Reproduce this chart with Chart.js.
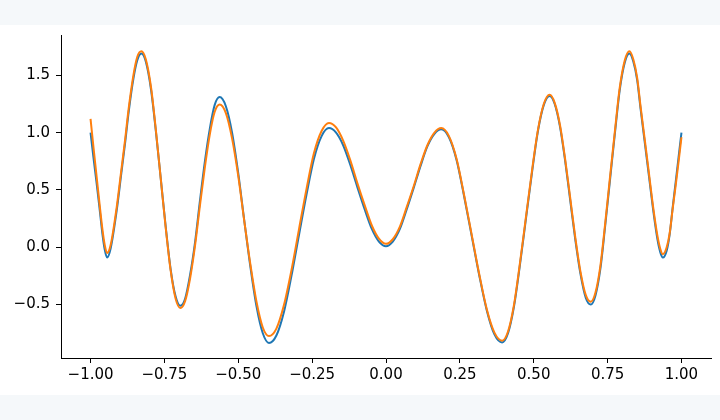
<!DOCTYPE html>
<html>
<head>
<meta charset="utf-8">
<script src="https://cdn.jsdelivr.net/npm/chart.js@4"></script>
<style>
  html, body { margin: 0; padding: 0; }
  body { width: 720px; height: 420px; background: #f5f8fa; position: relative; overflow: hidden; }
  #wrap { position: absolute; left: 0; top: 25px; width: 720px; height: 370px; background: #fff; }
</style>
</head>
<body>
<div id="wrap"><canvas id="chart"></canvas></div>
<script>
// sample positions (extrema, mid-crossings, shoulders)
const xs = [
  -1.000, -0.990, -0.980, -0.970, -0.960, -0.952, -0.944, -0.932, -0.911, -0.897,
  -0.883, -0.871, -0.855, -0.842, -0.828, -0.813, -0.795, -0.778, -0.762, -0.746,
  -0.729, -0.712, -0.696, -0.680, -0.663, -0.646, -0.630, -0.613, -0.596, -0.580,
  -0.563, -0.542, -0.521, -0.500, -0.480, -0.459, -0.438, -0.417, -0.396, -0.371,
  -0.345, -0.320, -0.295, -0.269, -0.244, -0.218, -0.193, -0.169, -0.145, -0.121,
  -0.097, -0.072, -0.048, -0.024, 0.000, 0.023, 0.047, 0.070, 0.094, 0.117,
  0.140, 0.164, 0.187, 0.213, 0.239, 0.264, 0.290, 0.316, 0.342, 0.367,
  0.393, 0.413, 0.433, 0.453, 0.4735, 0.494, 0.514, 0.534, 0.554, 0.571,
  0.589, 0.606, 0.6235, 0.641, 0.658, 0.676, 0.693, 0.709, 0.726, 0.742,
  0.7585, 0.775, 0.791, 0.808, 0.824, 0.837, 0.850, 0.862, 0.876, 0.890,
  0.904, 0.918, 0.928, 0.937, 0.950, 0.960, 0.970, 0.980, 0.990, 1.000
];

const blue = [
  1.00, 0.78, 0.57, 0.35, 0.12, -0.02, -0.09, -0.01, 0.33, 0.62,
  0.91, 1.18, 1.47, 1.63, 1.69, 1.62, 1.37, 0.99, 0.59, 0.19,
  -0.19, -0.43, -0.51, -0.45, -0.24, 0.05, 0.40, 0.75, 1.04, 1.24,
  1.31, 1.23, 1.00, 0.645, 0.24, -0.17, -0.52, -0.75, -0.835, -0.77,
  -0.56, -0.25, 0.10, 0.46, 0.77, 0.97, 1.04, 1.00, 0.89, 0.72,
  0.525, 0.33, 0.16, 0.05, 0.01, 0.05, 0.16, 0.33, 0.52, 0.71,
  0.88, 0.99, 1.03, 0.96, 0.76, 0.45, 0.10, -0.25, -0.56, -0.76,
  -0.83, -0.75, -0.52, -0.16, 0.245, 0.65, 1.01, 1.24, 1.32, 1.25,
  1.05, 0.76, 0.41, 0.06, -0.23, -0.44, -0.50, -0.42, -0.18, 0.19,
  0.595, 1.00, 1.37, 1.61, 1.69, 1.62, 1.46, 1.20, 0.91, 0.62,
  0.33, 0.08, -0.04, -0.09, -0.03, 0.11, 0.34, 0.56, 0.78, 1.00
];

const orange = [
  1.12, 0.87, 0.63, 0.39, 0.16, 0.02, -0.05, 0.02, 0.36, 0.65,
  0.94, 1.21, 1.50, 1.66, 1.71, 1.64, 1.39, 1.00, 0.59, 0.18,
  -0.20, -0.45, -0.53, -0.47, -0.27, 0.02, 0.36, 0.70, 0.99, 1.18,
  1.245, 1.17, 0.95, 0.62, 0.235, -0.15, -0.48, -0.70, -0.775, -0.71,
  -0.50, -0.20, 0.15, 0.51, 0.82, 1.015, 1.085, 1.045, 0.93, 0.76,
  0.56, 0.365, 0.19, 0.075, 0.03, 0.07, 0.18, 0.35, 0.535, 0.725,
  0.89, 1.00, 1.04, 0.97, 0.77, 0.46, 0.11, -0.24, -0.55, -0.745,
  -0.815, -0.735, -0.505, -0.145, 0.26, 0.665, 1.02, 1.25, 1.33, 1.26,
  1.065, 0.775, 0.43, 0.08, -0.21, -0.415, -0.475, -0.395, -0.155, 0.21,
  0.62, 1.02, 1.39, 1.63, 1.71, 1.64, 1.48, 1.22, 0.935, 0.645,
  0.355, 0.11, -0.01, -0.06, 0.00, 0.12, 0.33, 0.53, 0.74, 0.96
];

const xTicks = [-1.00, -0.75, -0.50, -0.25, 0.00, 0.25, 0.50, 0.75, 1.00];
const yTicks = [-0.5, 0.0, 0.5, 1.0, 1.5];

const minus = s => s.replace('-', '\u2212');
const font = { family: 'DejaVu Sans', size: 15 };

const series = (ys, color, order) => ({
  data: xs.map((x, i) => ({ x, y: ys[i] })),
  borderColor: color,
  borderWidth: 2,
  pointRadius: 0,
  fill: false,
  cubicInterpolationMode: 'monotone',
  order
});

new Chart('chart', {
  type: 'line',
  data: {
    datasets: [series(blue, '#1f77b4', 1), series(orange, '#ff7f0e', 0)]
  },
  options: {
    responsive: true,
    maintainAspectRatio: false,
    animation: false,
    layout: { padding: { top: 10, right: 9, left: 0, bottom: 0 } },
    plugins: { legend: { display: false }, tooltip: { enabled: false } },
    scales: {
      x: {
        type: 'linear',
        min: -1.1,
        max: 1.1,
        afterBuildTicks: s => { s.ticks = xTicks.map(value => ({ value })); },
        afterFit: s => { s.height = 37; s.paddingLeft = 0; s.paddingRight = 0; },
        grid: { drawOnChartArea: false, drawTicks: true, tickLength: 5, tickColor: '#000', tickWidth: 1 },
        border: { display: true, color: '#000', width: 1 },
        ticks: { color: '#000', font, padding: 3, maxRotation: 0, callback: v => minus(v.toFixed(2)) }
      },
      y: {
        type: 'linear',
        min: -0.966,
        max: 1.852,
        afterBuildTicks: s => { s.ticks = yTicks.map(value => ({ value })); },
        afterFit: s => { s.width = 61; s.paddingTop = 0; s.paddingBottom = 0; },
        grid: { drawOnChartArea: false, drawTicks: true, tickLength: 5, tickColor: '#000', tickWidth: 1 },
        border: { display: true, color: '#000', width: 1 },
        ticks: { color: '#000', font, padding: 6, callback: v => minus(v.toFixed(1)) }
      }
    }
  }
});
</script>
</body>
</html>
